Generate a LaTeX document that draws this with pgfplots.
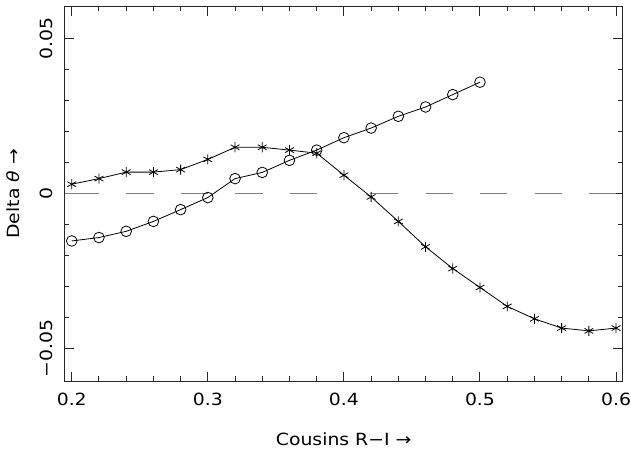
\documentclass[border=0pt]{standalone}
\usepackage{fontspec}
\setmainfont{DejaVu Sans}[FakeStretch=1.12]
\usepackage{pgfplots}
\pgfplotsset{compat=1.18}

\pgfplotstableread{
x      y
0.20   0.0030
0.22   0.0048
0.24   0.0069
0.26   0.0069
0.28   0.0077
0.30   0.0110
0.32   0.0149
0.34   0.0149
0.36   0.0140
0.38   0.0130
0.40   0.0059
0.42  -0.0011
0.44  -0.0090
0.46  -0.0172
0.48  -0.0242
0.50  -0.0303
0.52  -0.0364
0.54  -0.0404
0.56  -0.0434
0.58  -0.0443
0.60  -0.0434
}\stars

\pgfplotstableread{
x      y
0.20  -0.0153
0.22  -0.0142
0.24  -0.0122
0.26  -0.0090
0.28  -0.0052
0.30  -0.0013
0.32   0.0048
0.34   0.0068
0.36   0.0107
0.38   0.0140
0.40   0.0180
0.42   0.0211
0.44   0.0249
0.46   0.0279
0.48   0.0319
0.50   0.0359
}\circles

\begin{document}
\begin{tikzpicture}
\begin{axis}[
  scale only axis,
  width=418.6pt, height=280.9pt,
  xmin=0.1947, xmax=0.6049,
  ymin=-0.0605, ymax=0.0603,
  scaled ticks=false,
  xtick={0.2,0.3,0.4,0.5,0.6},
  xticklabels={0.2,0.3,0.4,0.5,0.6},
  ytick={-0.05,0,0.05},
  yticklabels={−0.05,0,0.05},
  minor x tick num=4, minor y tick num=4,
  tick align=inside,
  major tick length=7pt, minor tick length=3.5pt,
  axis line style={line width=0.75pt, black!85},
  every tick/.style={black!85, line width=0.75pt},
  tick label style={font=\fontsize{12.6}{14}\selectfont},
  label style={font=\fontsize{12.6}{14}\selectfont},
  xticklabel style={anchor=north, inner sep=0pt},
  xticklabel shift=8.8pt,
  yticklabel style={rotate=90, anchor=south, inner sep=0pt},
  yticklabel shift=8.6pt,
  xlabel={Cousins R−I →},
  ylabel={Delta \textit{θ} →},
  xlabel style={at={(rel axis cs:0.5,0)}, anchor=north, inner sep=0pt, yshift=-38.3pt},
  ylabel style={at={(rel axis cs:0,0.5)}, anchor=south, inner sep=0pt, yshift=33.4pt},
]
\coordinate (sw) at (rel axis cs:0,0);
\coordinate (ne) at (rel axis cs:1,1);

% zero line
\addplot[gray, line width=1.4pt, forget plot] coordinates {(0.1947,0) (0.2,0)};
\addplot[gray, line width=1.4pt, dash pattern=on 20.45pt off 20.45pt] coordinates {(0.2,0) (0.38,0)};
\addplot[gray, line width=1.4pt, dash pattern=on 20.45pt off 20.45pt] coordinates {(0.42,0) (0.6,0)};

\addplot[black, line width=0.6pt, mark=asterisk, mark size=3.8pt] table {\stars};
\addplot[black, line width=0.6pt, mark=o, mark size=4pt] table {\circles};
\end{axis}
\pgfresetboundingbox
\path[use as bounding box] ([shift={(-48.4pt,-52.5pt)}]sw) rectangle ([shift={(6.2pt,4.9pt)}]ne);
\end{tikzpicture}
\end{document}
